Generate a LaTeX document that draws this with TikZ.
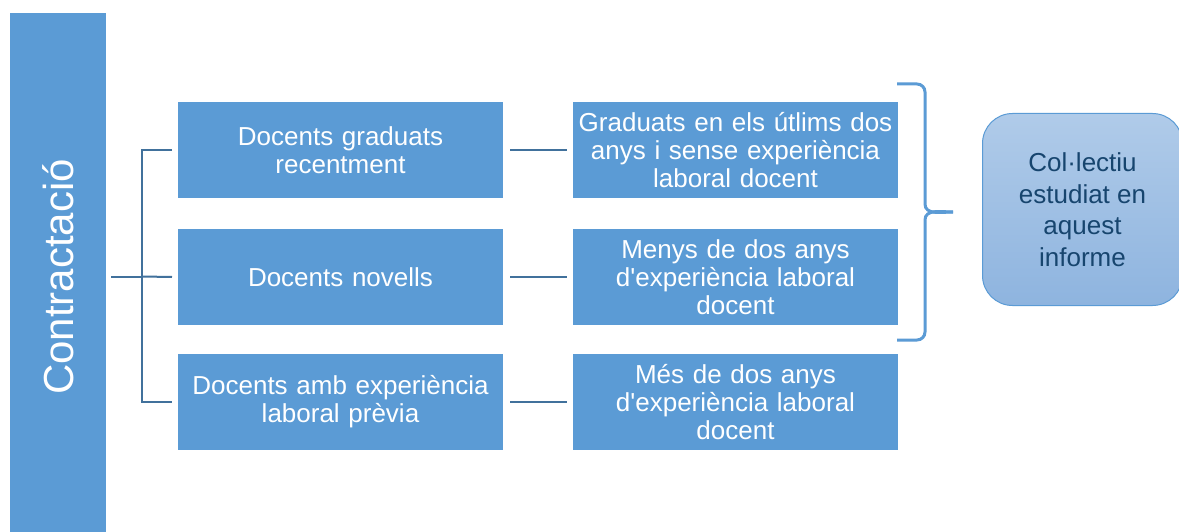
\documentclass[tikz,border=0pt]{standalone}
\usepackage{fontspec}
\setmainfont{Liberation Sans}[Ligatures=TeXOff]
\usetikzlibrary{positioning,calc}
\definecolor{boxblue}{HTML}{5B9BD5}
\definecolor{linkblue}{HTML}{41719C}
\definecolor{topblue}{HTML}{B0CBE9}
\definecolor{botblue}{HTML}{8EB4DF}
\definecolor{textdark}{HTML}{17456E}
\begin{document}
\begin{tikzpicture}[x=1pt,y=-1pt,
  catbox/.style={draw=white,line width=1pt,fill=boxblue,minimum width=326pt,minimum height=97pt,
    text width=320pt,align=center,text=white,font=\fontsize{26}{28}\selectfont,inner sep=0pt,anchor=north west},
  link/.style={draw=linkblue,line width=2pt},
  plink/.style={draw=linkblue,line width=1.5pt}]
\useasboundingbox (0,0) rectangle (1179,532);
\fill[white] (0,0) rectangle (1179,532);
\node[fill=boxblue,minimum width=96pt,minimum height=520pt,inner sep=0pt,anchor=north west] (bar) at (10,13) {};
\node[rotate=90,text=white,font=\fontsize{42}{48}\selectfont] (bartxt) at (58,277) {Contractació};
\node[catbox] (l1) at (177,101) {Docents graduats\\recentment};
\node[catbox] (l2) at (177,228) {Docents novells};
\node[catbox] (l3) at (177,353) {Docents amb experiència\\laboral prèvia};
\node[catbox] (r1) at (572,101) {Graduats en els útlims dos\\anys i sense experiència\\laboral docent};
\node[catbox] (r2) at (572,228) {Menys de dos anys\\d'experiència laboral\\docent};
\node[catbox] (r3) at (572,353) {Més de dos anys\\d'experiència laboral\\docent};
\coordinate (hub) at (111,276.5);
\coordinate (spine) at (142,276.5);
\draw[link] (hub) -- (spine);
\draw[link] ($(l1.west)+(-5,0)$) -| (spine) |- ($(l3.west)+(-5,0)$);
\draw[link] (spine) -- ($(l2.west)+(-5,0)$);
\draw[plink] ($(l1.east)+(6,0)$) -- ($(r1.west)+(-5,0)$);
\draw[plink] ($(l2.east)+(6,0)$) -- ($(r2.west)+(-5,0)$);
\draw[plink] ($(l3.east)+(6,0)$) -- ($(r3.west)+(-5,0)$);
\coordinate (bt) at (897,84);
\coordinate (bb) at (897,340);
\coordinate (tip) at (953,212);
\draw[boxblue,line width=3pt] (bt) -- (917,84) to[out=0,in=90] (925,92) -- (925,204) to[out=-90,in=180] (tip);
\draw[boxblue,line width=3pt] (bb) -- (917,340) to[out=0,in=-90] (925,332) -- (925,220) to[out=90,in=180] (tip);
\node[draw=boxblue,line width=1pt,rounded corners=30pt,top color=topblue,bottom color=botblue,
  minimum width=200pt,minimum height=192pt,anchor=north west,inner sep=0pt,
  text=textdark,align=center,font=\fontsize{26}{31.5}\selectfont] (col) at (982,113)
  {Col·lectiu\\estudiat en\\aquest\\informe};
\end{tikzpicture}
\end{document}
